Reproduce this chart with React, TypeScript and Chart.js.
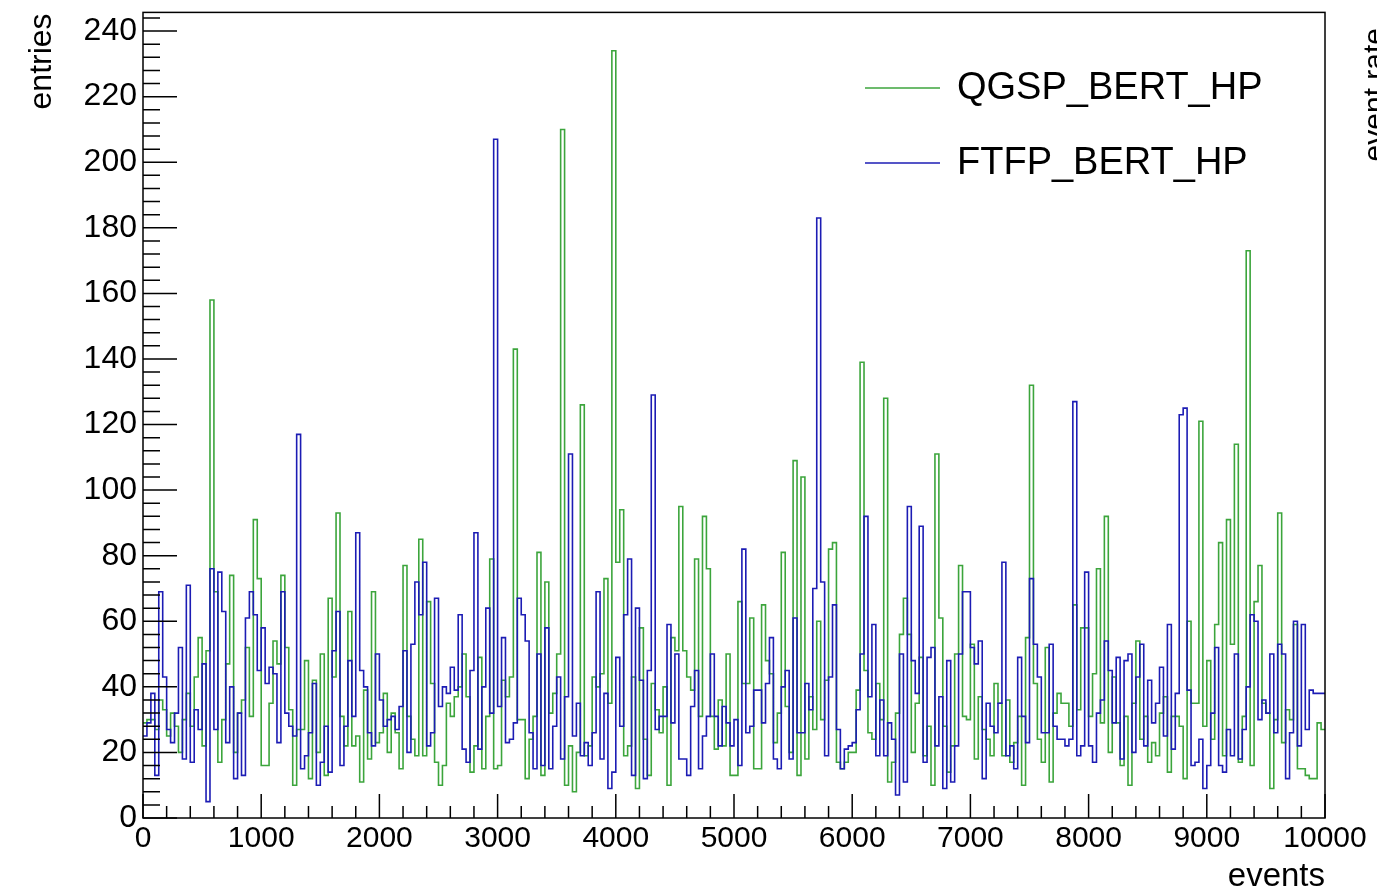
import React, { useEffect, useRef } from 'react';
import { Chart, registerables } from 'chart.js';

Chart.register(...registerables);

// ---- data ----
const EVENTS_MIN = 0;
const EVENTS_MAX = 10000;
const ENTRIES_MAX = 245.7;
const xTickStep = 1000;
const yTickStep = 20;
const seriesNames = ['QGSP_BERT_HP', 'FTFP_BERT_HP'];
const axisTitles = { x: 'events', y: 'entries', y2: 'event rate' };

// 300 bins of 33.3 events each
const qgspEntries = [
  29, 30, 30, 27, 36, 33, 25, 32, 28, 20, 30, 38, 28, 43, 55, 22, 51, 158, 69, 17, 30, 47, 74, 20, 32, 36, 52, 31, 91, 73,
  16, 16, 35, 54, 47, 74, 52, 33, 10, 27, 27, 48, 12, 42, 20, 50, 13, 67, 43, 93, 31, 22, 63, 22, 25, 11, 39, 18, 69, 23,
  26, 38, 20, 32, 26, 15, 77, 31, 24, 19, 85, 19, 66, 41, 17, 10, 16, 35, 31, 37, 40, 50, 37, 14, 22, 49, 15, 31, 79, 15,
  16, 42, 37, 43, 143, 30, 30, 12, 24, 31, 81, 13, 72, 32, 38, 50, 210, 10, 22, 8, 20, 126, 19, 22, 43, 40, 44, 73, 35, 234,
  78, 94, 19, 22, 43, 9, 58, 24, 13, 41, 33, 26, 40, 10, 55, 51, 95, 51, 43, 39, 79, 31, 92, 76, 31, 21, 36, 22, 50, 13,
  13, 66, 41, 41, 61, 15, 15, 65, 48, 44, 23, 32, 81, 34, 20, 109, 13, 104, 18, 37, 27, 60, 30, 42, 82, 84, 17, 15, 17, 20,
  20, 39, 139, 45, 26, 24, 41, 30, 128, 11, 17, 32, 56, 67, 56, 20, 35, 49, 19, 28, 10, 111, 61, 28, 14, 22, 50, 77, 31, 30,
  53, 18, 37, 27, 24, 19, 41, 35, 19, 36, 17, 23, 31, 10, 55, 132, 41, 24, 17, 52, 11, 32, 38, 35, 35, 28, 65, 33, 58, 58,
  31, 44, 76, 29, 92, 20, 43, 29, 16, 31, 10, 35, 54, 24, 31, 17, 23, 19, 32, 37, 14, 31, 31, 28, 12, 60, 35, 35, 121, 28,
  48, 24, 59, 84, 19, 91, 53, 114, 17, 31, 173, 16, 66, 77, 35, 32, 9, 30, 93, 23, 33, 30, 59, 15, 15, 13, 12, 12, 29, 27,
];

const ftfpEntries = [
  25, 29, 38, 13, 69, 43, 27, 23, 32, 52, 18, 71, 17, 33, 27, 47, 5, 76, 27, 75, 63, 23, 40, 12, 32, 13, 61, 69, 62, 45,
  58, 41, 46, 44, 23, 69, 32, 28, 25, 117, 15, 19, 26, 41, 10, 17, 28, 14, 51, 63, 16, 28, 48, 31, 87, 45, 40, 26, 22, 50,
  36, 28, 30, 31, 27, 34, 51, 20, 53, 72, 62, 78, 22, 26, 67, 34, 40, 38, 46, 39, 62, 21, 17, 45, 87, 21, 40, 64, 32, 207,
  34, 55, 23, 24, 29, 67, 62, 54, 26, 15, 50, 16, 58, 15, 28, 43, 18, 37, 111, 25, 35, 19, 23, 16, 26, 69, 18, 38, 9, 14,
  49, 28, 62, 79, 13, 64, 42, 12, 45, 129, 27, 31, 31, 59, 29, 50, 18, 18, 13, 34, 45, 15, 25, 31, 50, 31, 22, 34, 29, 22,
  30, 16, 82, 26, 28, 39, 39, 29, 41, 55, 18, 15, 40, 45, 18, 61, 26, 26, 41, 33, 70, 183, 72, 19, 43, 65, 27, 15, 21, 22,
  23, 33, 50, 92, 37, 59, 19, 36, 19, 29, 24, 7, 50, 11, 95, 48, 38, 89, 17, 49, 52, 22, 37, 9, 48, 11, 22, 50, 69, 69,
  52, 47, 54, 12, 35, 28, 26, 35, 78, 19, 22, 15, 49, 31, 23, 73, 53, 43, 26, 26, 53, 28, 24, 24, 22, 24, 127, 19, 22, 75,
  22, 17, 32, 36, 54, 45, 29, 49, 18, 48, 50, 20, 43, 53, 22, 42, 29, 35, 46, 25, 59, 21, 38, 123, 125, 39, 16, 17, 24, 9,
  16, 32, 52, 16, 14, 27, 19, 50, 18, 27, 40, 62, 60, 30, 36, 32, 50, 26, 53, 50, 12, 26, 60, 22, 59, 27, 39, 38, 38, 38,
];

const GREEN = 'rgb(60,165,60)';
const BLUE = 'rgb(28,28,180)';
const FONT = '"Liberation Sans", Arial, Helvetica, sans-serif';

function toSteps(values: number[]) {
  const w = (EVENTS_MAX - EVENTS_MIN) / values.length;
  const pts = values.map((v, i) => ({ x: EVENTS_MIN + i * w, y: v }));
  pts.push({ x: EVENTS_MAX, y: values[values.length - 1] });
  return pts;
}

const rootStylePlugin = {
  id: 'rootStyle',
  afterDraw(chart: any) {
    const { ctx, chartArea: a, scales } = chart;
    const xs = scales.x;
    const ys = scales.y;
    ctx.save();
    ctx.strokeStyle = '#000';
    ctx.lineWidth = 1.5;
    ctx.strokeRect(a.left, a.top, a.right - a.left, a.bottom - a.top);
    ctx.beginPath();
    const yMinor = yTickStep / 5;
    for (let k = 0; k * yMinor <= ys.max + 1e-9; k++) {
      const v = k * yMinor;
      const y = ys.getPixelForValue(v);
      const len = k % 5 === 0 ? 34 : 17;
      ctx.moveTo(a.left, y);
      ctx.lineTo(a.left + len, y);
    }
    const xMinor = xTickStep / 5;
    for (let k = 0; k * xMinor <= xs.max + 1e-9; k++) {
      const v = k * xMinor;
      const x = xs.getPixelForValue(v);
      const len = k % 5 === 0 ? 24 : 12;
      ctx.moveTo(x, a.bottom);
      ctx.lineTo(x, a.bottom - len);
    }
    ctx.stroke();

    ctx.fillStyle = '#000';
    // y title
    ctx.save();
    ctx.font = `32px ${FONT}`;
    ctx.translate(51, a.top + 1);
    ctx.rotate(-Math.PI / 2);
    ctx.textAlign = 'right';
    ctx.textBaseline = 'alphabetic';
    ctx.fillText(axisTitles.y, 0, 0);
    ctx.restore();
    // right axis title (partly outside the canvas)
    ctx.save();
    ctx.font = `30px ${FONT}`;
    ctx.translate(1384, 28);
    ctx.rotate(-Math.PI / 2);
    ctx.textAlign = 'right';
    ctx.textBaseline = 'alphabetic';
    ctx.fillText(axisTitles.y2, 0, 0);
    ctx.restore();
    // x title
    ctx.font = `33px ${FONT}`;
    ctx.textAlign = 'right';
    ctx.textBaseline = 'alphabetic';
    ctx.fillText(axisTitles.x, a.right, 886);

    // legend
    const colors = [GREEN, BLUE];
    const rows = [88, 163];
    ctx.font = `38px ${FONT}`;
    ctx.textAlign = 'left';
    ctx.textBaseline = 'middle';
    seriesNames.forEach((name, i) => {
      ctx.strokeStyle = colors[i];
      ctx.lineWidth = 1.6;
      ctx.beginPath();
      ctx.moveTo(865, rows[i]);
      ctx.lineTo(940, rows[i]);
      ctx.stroke();
      ctx.fillStyle = '#000';
      ctx.fillText(name, 957, rows[i] + 1);
    });
    ctx.restore();
  },
};

export default function App() {
  const ref = useRef<HTMLCanvasElement | null>(null);

  useEffect(() => {
    document.body.style.margin = '0';
    if (!ref.current) return;
    const chart = new Chart(ref.current, {
      type: 'line',
      data: {
        datasets: [
          {
            label: seriesNames[0],
            data: toSteps(qgspEntries),
            borderColor: GREEN,
            borderWidth: 1.6,
            pointRadius: 0,
            fill: false,
            stepped: 'before',
            order: 1,
          },
          {
            label: seriesNames[1],
            data: toSteps(ftfpEntries),
            borderColor: BLUE,
            borderWidth: 1.6,
            pointRadius: 0,
            fill: false,
            stepped: 'before',
            order: 0,
          },
        ],
      },
      options: {
        animation: false,
        responsive: false,
        devicePixelRatio: 1,
        parsing: false,
        normalized: true,
        layout: { padding: { left: 0, right: 52, top: 12, bottom: 0 } },
        plugins: { legend: { display: false }, tooltip: { enabled: false } },
        scales: {
          x: {
            type: 'linear',
            min: EVENTS_MIN,
            max: EVENTS_MAX,
            grid: { display: false, drawTicks: false },
            border: { display: false },
            ticks: {
              stepSize: xTickStep,
              color: '#000',
              font: { family: FONT, size: 30, lineHeight: 1.2 },
              padding: 3,
              maxRotation: 0,
              autoSkip: false,
              callback: (v: any) => String(v),
            },
            afterBuildTicks: (s: any) => {
              s.ticks = s.ticks.filter((t: any) => t.value % xTickStep === 0);
            },
            afterFit: (s: any) => {
              s.height = 77;
            },
          },
          y: {
            type: 'linear',
            min: 0,
            max: ENTRIES_MAX,
            grid: { display: false, drawTicks: false },
            border: { display: false },
            ticks: {
              stepSize: yTickStep,
              color: '#000',
              font: { family: FONT, size: 32, lineHeight: 0.4 },
              padding: 6,
              autoSkip: false,
              callback: (v: any) => String(v),
            },
            afterBuildTicks: (s: any) => {
              s.ticks = s.ticks.filter((t: any) => t.value % yTickStep === 0);
            },
            afterFit: (s: any) => {
              s.width = 143;
            },
          },
        },
      },
      plugins: [rootStylePlugin],
    });
    return () => chart.destroy();
  }, []);

  return (
    <div style={{ width: 1377, height: 895, background: '#fff' }}>
      <canvas ref={ref} width={1377} height={895} style={{ display: 'block', width: 1377, height: 895 }} />
    </div>
  );
}
